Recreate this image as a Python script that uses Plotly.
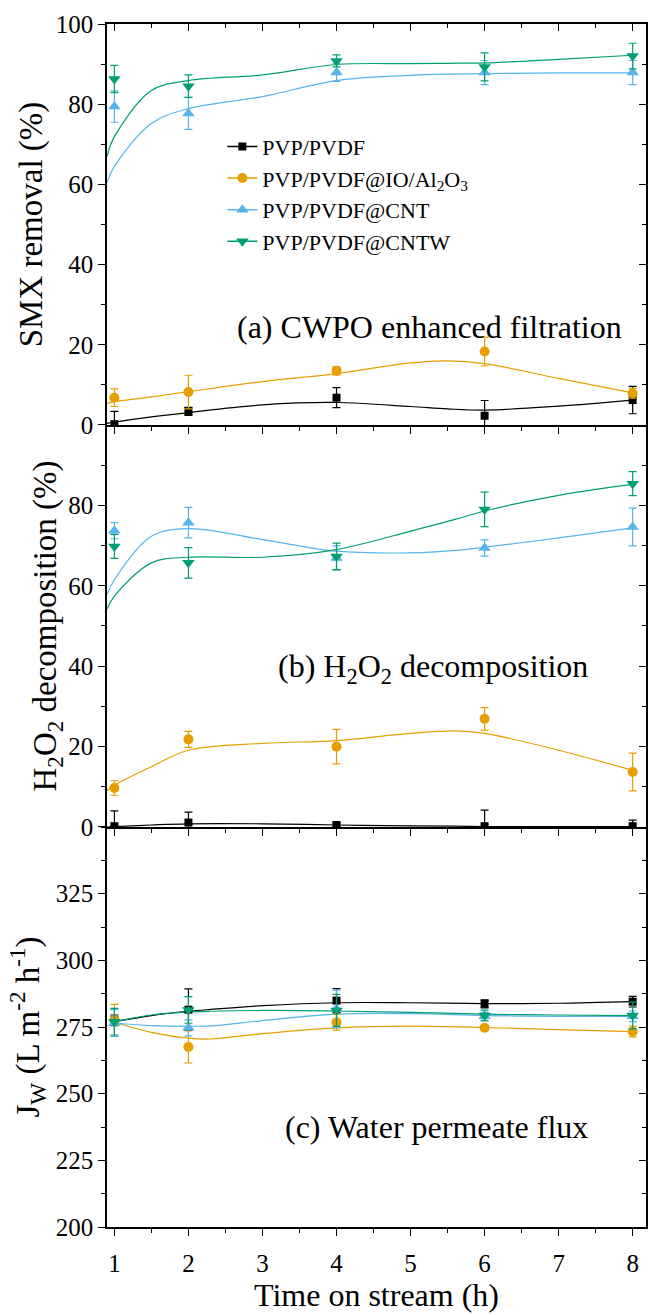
import plotly.graph_objects as go

# ---------------- data ----------------
time_h = [1, 2, 4, 6, 8]

names = ["PVP/PVDF", "PVP/PVDF@IO/Al<sub>2</sub>O<sub>3</sub>", "PVP/PVDF@CNT", "PVP/PVDF@CNTW"]
colors = ["#000000", "#E69F00", "#56B4E9", "#009E73"]
symbols = ["square", "circle", "triangle-up", "triangle-down"]
msizes = [8, 10, 11, 11]

# (a) SMX removal (%)
smx_pvdf = [0.2, 3.4, 6.8, 2.3, 6.2]
smx_pvdf_err = [3.2, 1.0, 2.5, 3.8, 3.4]
smx_io = [6.8, 8.2, 13.5, 18.3, 7.9]
smx_io_err = [2.2, 4.2, 1.0, 3.6, 1.2]
smx_cnt = [79.4, 77.7, 87.9, 87.9, 87.9]
smx_cnt_err = [3.9, 4.0, 2.2, 3.0, 3.0]
smx_cntw = [86.3, 84.5, 90.8, 89.3, 92.0]
smx_cntw_err = [3.4, 2.8, 1.5, 3.5, 3.2]

# (a) fitted curves
fit_a_x = [0.9, 1, 1.5, 2, 3, 4, 5, 5.5, 6, 7, 8]
fit_a_pvdf = [0.4, 0.7, 2.0, 3.1, 5.0, 5.6, 4.6, 4.0, 3.7, 4.7, 6.2]
fit_a_io = [5.4, 5.8, 7.0, 8.3, 10.8, 12.8, 15.5, 16.0, 15.3, 11.6, 8.0]
fit_a_cnt = [60.4, 64.5, 75.2, 78.9, 81.9, 85.9, 87.2, 87.5, 87.6, 87.8, 87.8]
fit_a_cntw = [67.0, 71.9, 83.4, 85.9, 87.3, 89.9, 90.1, 90.2, 90.3, 91.2, 92.2]

# (b) H2O2 decomposition (%)
h2o2_pvdf = [0.2, 1.1, 0.5, 0.2, 0.2]
h2o2_pvdf_err = [3.8, 2.6, 0.5, 4.0, 1.5]
h2o2_io = [9.7, 21.8, 20.0, 26.9, 13.7]
h2o2_io_err = [1.8, 2.0, 4.3, 2.8, 4.7]
h2o2_cnt = [73.7, 75.7, 66.9, 69.4, 74.6]
h2o2_cnt_err = [2.0, 3.8, 3.0, 2.0, 4.7]
h2o2_cntw = [69.8, 65.7, 67.3, 79.0, 85.4]
h2o2_cntw_err = [3.0, 3.8, 3.3, 4.3, 3.0]

fit_b_x = [0.9, 1, 1.5, 2, 3, 4, 5, 5.6, 6, 7, 8]
fit_b_pvdf = [0.0, 0.1, 0.5, 0.8, 0.8, 0.5, 0.3, 0.2, 0.1, 0.1, 0.1]
fit_b_io = [9.0, 10.4, 15.0, 19.1, 20.8, 21.5, 23.3, 23.9, 23.3, 19.1, 14.1]
fit_b_cnt = [57.8, 61.5, 72.3, 74.2, 71.5, 68.6, 68.2, 68.8, 69.6, 71.9, 74.4]
fit_b_cntw = [54.2, 57.4, 65.7, 67.1, 67.1, 69.0, 73.6, 76.5, 78.6, 82.5, 85.2]

# (c) water permeate flux (L m-2 h-1)
jw_pvdf = [277.5, 281.5, 284.9, 283.7, 284.5]
jw_pvdf_err = [2.0, 7.8, 4.5, 1.5, 2.0]
jw_io = [277.5, 267.5, 276.8, 274.7, 273.3]
jw_io_err = [6.0, 6.0, 3.0, 0.8, 2.0]
jw_cnt = [276.5, 274.7, 281.8, 279.0, 279.0]
jw_cnt_err = [5.0, 3.0, 7.0, 1.5, 2.0]
jw_cntw = [277.0, 281.4, 281.2, 279.3, 279.3]
jw_cntw_err = [5.0, 5.0, 6.0, 2.0, 5.0]

fit_c_x = [1, 1.5, 2, 2.3, 3, 4, 5, 6, 7, 8]
fit_c_pvdf = [277.0, 279.3, 280.9, 281.6, 283.0, 284.1, 284.1, 283.8, 283.9, 284.5]
fit_c_io = [276.8, 273.0, 270.8, 270.5, 272.5, 274.7, 275.3, 274.8, 274.0, 273.3]
fit_c_cnt = [276.5, 275.5, 275.3, 275.4, 277.4, 279.8, 280.0, 279.3, 279.0, 279.0]
fit_c_cntw = [277.0, 279.5, 280.6, 280.9, 281.2, 281.0, 280.5, 279.8, 279.5, 279.3]

panels = [
    ("x", "y", fit_a_x,
     [fit_a_pvdf, fit_a_io, fit_a_cnt, fit_a_cntw],
     [smx_pvdf, smx_io, smx_cnt, smx_cntw],
     [smx_pvdf_err, smx_io_err, smx_cnt_err, smx_cntw_err]),
    ("x2", "y2", fit_b_x,
     [fit_b_pvdf, fit_b_io, fit_b_cnt, fit_b_cntw],
     [h2o2_pvdf, h2o2_io, h2o2_cnt, h2o2_cntw],
     [h2o2_pvdf_err, h2o2_io_err, h2o2_cnt_err, h2o2_cntw_err]),
    ("x3", "y3", fit_c_x,
     [fit_c_pvdf, fit_c_io, fit_c_cnt, fit_c_cntw],
     [jw_pvdf, jw_io, jw_cnt, jw_cntw],
     [jw_pvdf_err, jw_io_err, jw_cnt_err, jw_cntw_err]),
]

FONT = "Liberation Serif"
fig = go.Figure()

for xa, ya, fx, fits, means, errs in panels:
    for i in range(4):
        fig.add_trace(go.Scatter(
            x=fx, y=fits[i], mode="lines", xaxis=xa, yaxis=ya,
            line=dict(color=colors[i], width=1.2, shape="spline", smoothing=1.0),
            showlegend=False, hoverinfo="skip"))
    for i in range(4):
        fig.add_trace(go.Scatter(
            x=time_h, y=means[i], mode="markers", xaxis=xa, yaxis=ya,
            marker=dict(color=colors[i], symbol=symbols[i], size=msizes[i], line=dict(width=0)),
            error_y=dict(type="data", array=errs[i], visible=True, color=colors[i],
                         thickness=1.2, width=4),
            showlegend=False))

# legend entries
for i in range(4):
    fig.add_trace(go.Scatter(
        x=[None], y=[None], mode="lines+markers", name=names[i], xaxis="x", yaxis="y",
        line=dict(color=colors[i], width=1.5),
        marker=dict(color=colors[i], symbol=symbols[i], size=msizes[i])))

d_a = [0.6667, 1.0]
d_b = [0.3325, 0.6667]
d_c = [0.0, 0.3325]
xr = [0.9, 8.18]

def xax(anchor, labels, mirror):
    return dict(domain=[0, 1], anchor=anchor, range=xr, showline=True, linecolor="black",
                linewidth=1.5, ticks="outside", ticklen=7, tickwidth=1.3, tickcolor="black",
                dtick=1, tick0=0, showgrid=False, zeroline=False, showticklabels=labels,
                minor=dict(ticks="outside", ticklen=4, tickwidth=1.3, tickcolor="black", dtick=0.5, showgrid=False),
                tickfont=dict(family=FONT, size=25, color="black"), mirror=mirror)

def yax(anchor, dom, rng, tvals, mdt, title, standoff):
    return dict(domain=dom, anchor=anchor, range=rng, showline=True, linecolor="black",
                linewidth=1.5, ticks="outside", ticklen=7, tickwidth=1.3, tickcolor="black",
                tickvals=tvals, showgrid=False, zeroline=False, mirror=True,
                minor=dict(ticks="outside", ticklen=4, tickwidth=1.3, tickcolor="black", dtick=mdt, tick0=0, showgrid=False),
                tickfont=dict(family=FONT, size=25, color="black"),
                title=dict(text=title, font=dict(family=FONT, size=33, color="black"), standoff=standoff))

def yright(over, anchor, dom, rng, tvals, mdt):
    return dict(domain=dom, anchor=anchor, overlaying=over, side="right", range=rng,
                showline=False, ticks="inside", ticklen=7, tickwidth=1.3, tickcolor="black",
                tickvals=tvals, showticklabels=False, showgrid=False, zeroline=False,
                minor=dict(ticks="inside", ticklen=4, tickwidth=1.3, tickcolor="black", dtick=mdt, tick0=0, showgrid=False))

fig.update_layout(
    width=649, height=1315,
    margin=dict(l=107, r=1, t=24, b=88),
    paper_bgcolor="white", plot_bgcolor="white",
    font=dict(family=FONT, color="black"),
    xaxis=xax("y", False, True),
    xaxis2=xax("y2", False, False),
    xaxis3=dict(xax("y3", True, False), ticklabelstandoff=6,
                title=dict(text="Time on stream (h)", font=dict(family=FONT, size=32, color="black"), standoff=8)),
    xaxis4=dict(overlaying="x", anchor="y", side="top", range=xr, ticks="inside", ticklen=7,
                tickwidth=1.3, tickcolor="black", dtick=1, tick0=0, showticklabels=False,
                showgrid=False, zeroline=False, showline=False,
                minor=dict(ticks="inside", ticklen=4, tickwidth=1.3, tickcolor="black", dtick=0.5, showgrid=False)),
    yaxis=yax("x", d_a, [0, 100], [0, 20, 40, 60, 80, 100], 10, "SMX removal (%)", 3),
    yaxis2=yax("x2", d_b, [0, 100], [0, 20, 40, 60, 80], 10,
               "H<sub>2</sub>O<sub>2</sub> decomposition (%)", 2),
    yaxis3=yax("x3", d_c, [200, 350], [200, 225, 250, 275, 300, 325], 12.5,
               "J<sub>W</sub> (L m<sup>-2</sup> h<sup>-1</sup>)", 6),
    yaxis4=yright("y", "x", d_a, [0, 100], [0, 20, 40, 60, 80, 100], 10),
    yaxis5=yright("y2", "x2", d_b, [0, 100], [0, 20, 40, 60, 80], 10),
    yaxis6=yright("y3", "x3", d_c, [200, 350], [200, 225, 250, 275, 300, 325], 12.5),
    legend=dict(x=0.214, y=0.9155, xanchor="left", yanchor="top", bgcolor="rgba(0,0,0,0)",
                font=dict(family=FONT, size=22, color="black"), itemwidth=30),
    showlegend=True,
    annotations=[
        dict(text="(a) CWPO enhanced filtration", x=5.26, y=24.4, xref="x", yref="y",
             showarrow=False, font=dict(family=FONT, size=32, color="black")),
        dict(text="(b) H<sub>2</sub>O<sub>2</sub> decomposition", x=5.3, y=39.5, xref="x2", yref="y2",
             showarrow=False, font=dict(family=FONT, size=32, color="black")),
        dict(text="(c) Water permeate flux", x=5.35, y=237.5, xref="x3", yref="y3",
             showarrow=False, font=dict(family=FONT, size=32, color="black")),
    ],
)

# empty traces so the overlay (mirror-tick) axes are drawn
for xa, ya in [("x4", "y"), ("x", "y4"), ("x2", "y5"), ("x3", "y6")]:
    fig.add_trace(go.Scatter(x=[None], y=[None], xaxis=xa, yaxis=ya, showlegend=False, hoverinfo="skip"))

fig.write_html("out.html")
